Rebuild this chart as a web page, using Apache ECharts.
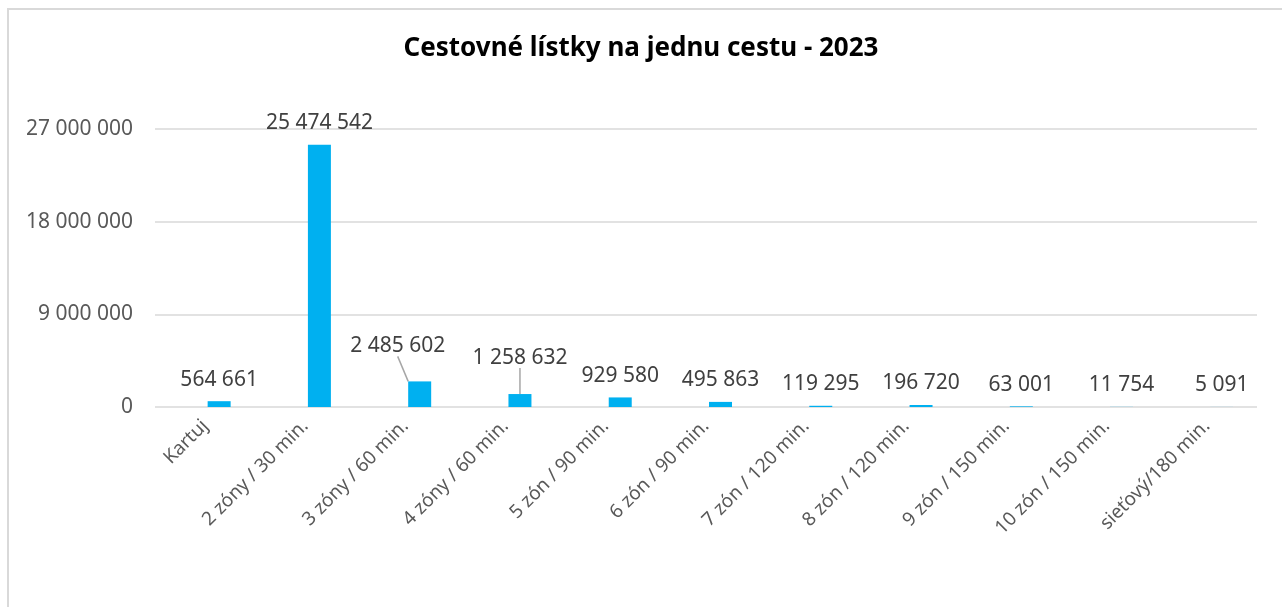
<!DOCTYPE html>
<html>
<head>
<meta charset="utf-8">
<script src="https://cdn.jsdelivr.net/npm/echarts@6/dist/echarts.min.js"></script>
<style>
  html, body { margin: 0; padding: 0; background: #fff; }
  #main { width: 1282px; height: 607px; }
</style>
</head>
<body>
<div id="main"></div>
<script>
var categories = ['Kartuj', '2 zóny / 30 min.', '3 zóny / 60 min.', '4 zóny / 60 min.', '5 zón / 90 min.',
  '6 zón / 90 min.', '7 zón / 120 min.', '8 zón / 120 min.', '9 zón / 150 min.', '10 zón / 150 min.', 'sieťový/180 min.']
var tickets = [564661, 25474542, 2485602, 1258632, 929580, 495863, 119295, 196720, 63001, 11754, 5091]
var yTicks = [0, 9000000, 18000000, 27000000]

function fmt(v) {
  return String(v).replace(/\B(?=(\d{3})+(?!\d))/g, ' ')
}

var font = '"Noto Sans", sans-serif'
var myChart = echarts.init(document.getElementById('main'))

var option = {
  animation: false,
  textStyle: { fontFamily: font },
  title: {
    text: 'Cestovné lístky na jednu cestu - 2023',
    left: 'center',
    top: 31,
    textStyle: { fontSize: 26, fontWeight: 'bold', color: '#000', fontFamily: font }
  },
  graphic: [{
    type: 'rect',
    shape: { x: 8, y: 9, width: 1400, height: 800 },
    style: { fill: null, stroke: '#d9d9d9', lineWidth: 2 },
    silent: true
  }],
  grid: [
    { left: 155, right: 25, top: 129, bottom: 200 },
    { left: 169, right: 10, top: 129, bottom: 200 }
  ],
  xAxis: [
    {
      // category labels sit a bit left of the bars, like in the source chart
      gridIndex: 0,
      type: 'category',
      data: categories,
      axisLine: { show: false },
      axisTick: { show: false },
      axisLabel: {
        rotate: 45,
        interval: 0,
        margin: 16,
        fontSize: 19,
        color: '#595959',
        fontFamily: font
      }
    },
    { gridIndex: 1, type: 'category', data: categories, show: false }
  ],
  yAxis: [
    {
      gridIndex: 0,
      type: 'value',
      min: yTicks[0],
      max: yTicks[yTicks.length - 1],
      interval: yTicks[1] - yTicks[0],
      axisLine: { show: false },
      axisTick: { show: false },
      splitLine: { lineStyle: { color: '#d9d9d9', width: 1.5 } },
      axisLabel: {
        margin: 22,
        fontSize: 21,
        color: '#595959',
        fontFamily: font,
        formatter: fmt
      }
    },
    {
      gridIndex: 1,
      type: 'value',
      min: yTicks[0],
      max: yTicks[yTicks.length - 1],
      show: false
    }
  ],
  series: [
    {
      type: 'bar',
      xAxisIndex: 1,
      yAxisIndex: 1,
      barWidth: 23,
      itemStyle: { color: '#00b0f0' },
      label: {
        show: true,
        position: 'top',
        distance: 11,
        fontSize: 21,
        color: '#404040',
        fontFamily: font,
        formatter: function(p) { return fmt(p.value) }
      },
      labelLine: {
        show: false,
        lineStyle: { color: '#a6a6a6', width: 1.5 }
      },
      labelLayout: function(p) {
        if (p.dataIndex === 2) return { dx: -22, dy: -14 }
        if (p.dataIndex === 3) return { dx: 0, dy: -15 }
        return {}
      },
      data: tickets.map(function(v, i) {
        if (i === 2 || i === 3) return { value: v, labelLine: { show: true } }
        return v
      })
    }
  ]
}
myChart.setOption(option)
</script>
</body>
</html>
